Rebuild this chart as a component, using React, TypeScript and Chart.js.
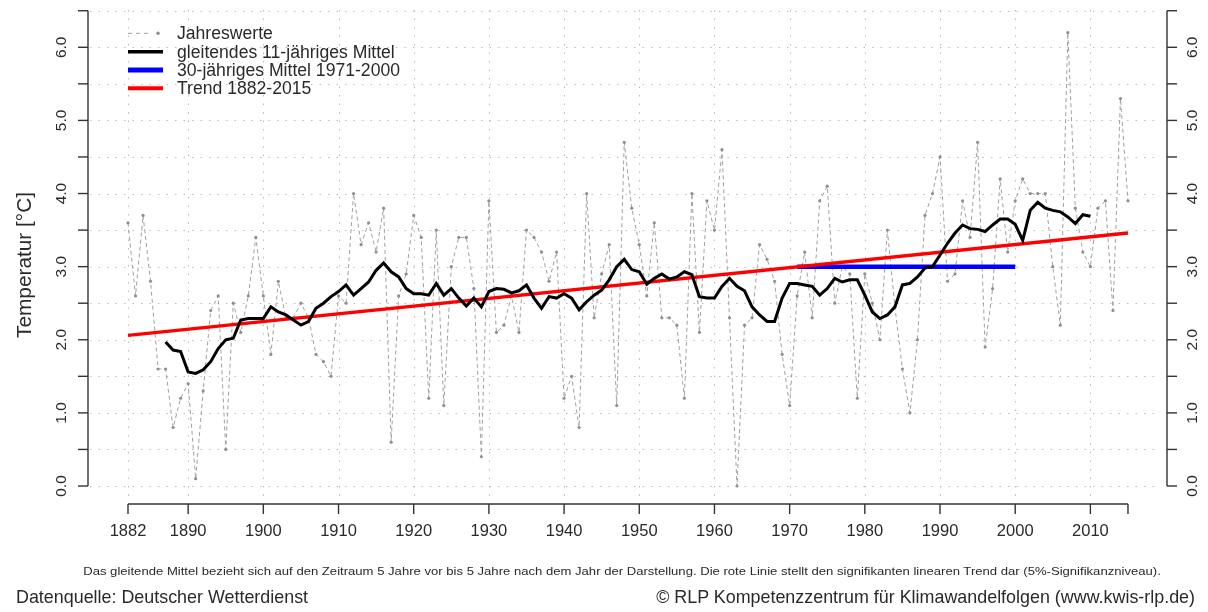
import React, { useEffect, useRef } from "react";
import { Chart, registerables } from "chart.js";

Chart.register(...registerables);

// ---------- data ----------
const FIRST_YEAR = 1882;
const LAST_YEAR = 2015;
const YEARS = Array.from({ length: LAST_YEAR - FIRST_YEAR + 1 }, (_, i) => FIRST_YEAR + i);

// Jahreswerte 1882-2015
const ANNUAL = [
  3.6, 2.6, 3.7, 2.8, 1.6, 1.6, 0.8, 1.2, 1.4, 0.1,
  1.3, 2.4, 2.6, 0.5, 2.5, 2.1, 2.6, 3.4, 2.6, 1.8,
  2.8, 2.3, 2.3, 2.5, 2.3, 1.8, 1.7, 1.5, 2.6, 2.5,
  4.0, 3.3, 3.6, 3.2, 3.8, 0.6, 2.6, 2.9, 3.7, 3.4,
  1.2, 3.5, 1.1, 3.0, 3.4, 3.4, 2.7, 0.4, 3.9, 2.1,
  2.2, 2.6, 2.1, 3.5, 3.4, 3.2, 2.8, 3.2, 1.2, 1.5,
  0.8, 4.0, 2.3, 2.9, 3.3, 1.1, 4.7, 3.8, 3.3, 2.6,
  3.6, 2.3, 2.3, 2.2, 1.2, 4.0, 2.1, 3.9, 3.5, 4.6,
  2.3, 0.0, 2.2, 2.3, 3.3, 3.1, 2.8, 1.8, 1.1, 2.6,
  3.2, 2.3, 3.9, 4.1, 2.5, 3.0, 2.9, 1.2, 2.9, 2.5,
  2.0, 3.5, 2.45, 1.6, 1.0, 2.0, 3.7, 4.0, 4.5, 2.8,
  2.9, 3.9, 3.4, 4.7, 1.9, 2.7, 4.2, 3.2, 3.9, 4.2,
  4.0, 4.0, 4.0, 3.0, 2.2, 6.2, 3.8, 3.2, 3.0, 3.8,
  3.9, 2.4, 5.3, 3.9,
];

// gleitendes 11-jähriges Mittel 1887-2010
const MA_FIRST_YEAR = 1887;
const MOVING_AVG = [
  1.97, 1.86, 1.84, 1.56, 1.54, 1.59, 1.70, 1.88, 2.00, 2.02,
  2.27, 2.29, 2.29, 2.29, 2.45, 2.38, 2.34, 2.27, 2.20, 2.25,
  2.43, 2.50, 2.59, 2.66, 2.75, 2.61, 2.70, 2.79, 2.95, 3.05,
  2.93, 2.86, 2.70, 2.63, 2.63, 2.61, 2.77, 2.61, 2.70, 2.57,
  2.46, 2.57, 2.45, 2.66, 2.70, 2.69, 2.64, 2.67, 2.75, 2.57,
  2.43, 2.59, 2.57, 2.63, 2.57, 2.41, 2.52, 2.61, 2.68, 2.82,
  3.00, 3.10, 2.96, 2.93, 2.76, 2.84, 2.90, 2.83, 2.86, 2.93,
  2.89, 2.59, 2.57, 2.57, 2.73, 2.84, 2.73, 2.67, 2.45, 2.34,
  2.25, 2.25, 2.57, 2.77, 2.77, 2.75, 2.73, 2.61, 2.70, 2.84,
  2.79, 2.82, 2.82, 2.61, 2.38, 2.29, 2.34, 2.45, 2.75, 2.77,
  2.86, 2.98, 3.00, 3.16, 3.32, 3.46, 3.57, 3.52, 3.51, 3.48,
  3.57, 3.65, 3.65, 3.58, 3.36, 3.77, 3.88, 3.80, 3.77, 3.75,
  3.68, 3.59, 3.71, 3.69,
];

// 30-jähriges Mittel 1971-2000
const REF_YEARS = [1971, 2000];
const REF_VALUES = [3.0, 3.0];

// Trend 1882-2015
const TREND_YEARS = [1882, 2015];
const TREND_VALUES = [2.06, 3.46];

// axes
const X_TICKS = [1882, 1890, 1900, 1910, 1920, 1930, 1940, 1950, 1960, 1970, 1980, 1990, 2000, 2010, 2015];
const X_LABELS = ["1882", "1890", "1900", "1910", "1920", "1930", "1940", "1950", "1960", "1970", "1980", "1990", "2000", "2010", ""];
const X_GRID = [1882, 1890, 1900, 1910, 1920, 1930, 1940, 1950, 1960, 1970, 1980, 1990, 2000, 2010];
const Y_TICKS = [0, 0.5, 1, 1.5, 2, 2.5, 3, 3.5, 4, 4.5, 5, 5.5, 6, 6.5];
const Y_LABELS = ["0.0", "", "1.0", "", "2.0", "", "3.0", "", "4.0", "", "5.0", "", "6.0", ""];

const LEGEND_LABELS = [
  "Jahreswerte",
  "gleitendes 11-jähriges Mittel",
  "30-jähriges Mittel 1971-2000",
  "Trend 1882-2015",
];

const FONT = "'Liberation Sans', Arial, Helvetica, sans-serif";
const TEXT = "#2a2a2a";
const GREY = "#8f8f8f";

const decorPlugin = {
  id: "decor",
  beforeDatasetsDraw(chart: any) {
    const { ctx, chartArea } = chart;
    const xs = chart.scales.x;
    const ys = chart.scales.y;
    ctx.save();
    ctx.strokeStyle = "#bcbcbc";
    ctx.lineWidth = 1;
    ctx.setLineDash([1.5, 7]);
    Y_TICKS.forEach((v) => {
      const y = Math.round(ys.getPixelForValue(v)) + 0.5;
      ctx.beginPath();
      ctx.moveTo(chartArea.left + 2, y);
      ctx.lineTo(chartArea.right - 6, y);
      ctx.stroke();
    });
    X_GRID.forEach((v) => {
      const x = Math.round(xs.getPixelForValue(v)) + 0.5;
      ctx.beginPath();
      ctx.moveTo(x, chartArea.bottom);
      ctx.lineTo(x, chartArea.top);
      ctx.stroke();
    });
    ctx.restore();
  },
  afterDraw(chart: any) {
    const { ctx, chartArea } = chart;
    const xs = chart.scales.x;
    const ys = chart.scales.y;
    ctx.save();
    ctx.strokeStyle = "#333";
    ctx.fillStyle = TEXT;
    ctx.lineWidth = 1.4;
    ctx.setLineDash([]);

    // left & right axes
    const yTop = ys.getPixelForValue(Y_TICKS[Y_TICKS.length - 1]);
    const yBot = ys.getPixelForValue(Y_TICKS[0]);
    [chartArea.left, chartArea.right].forEach((ax, side) => {
      const dir = side === 0 ? -1 : 1;
      ctx.beginPath();
      ctx.moveTo(ax, yTop);
      ctx.lineTo(ax, yBot);
      ctx.stroke();
      Y_TICKS.forEach((v) => {
        const y = ys.getPixelForValue(v);
        ctx.beginPath();
        ctx.moveTo(ax, y);
        ctx.lineTo(ax + dir * 10, y);
        ctx.stroke();
      });
      ctx.font = `15.5px ${FONT}`;
      ctx.textAlign = "center";
      ctx.textBaseline = "middle";
      Y_TICKS.forEach((v, i) => {
        if (!Y_LABELS[i]) return;
        const y = ys.getPixelForValue(v);
        ctx.save();
        ctx.translate(ax + dir * 26, y);
        ctx.rotate(-Math.PI / 2);
        ctx.fillText(Y_LABELS[i], 0, 0);
        ctx.restore();
      });
    });

    // bottom axis
    const axisY = chartArea.bottom + 8;
    const x0 = xs.getPixelForValue(X_TICKS[0]);
    const x1 = xs.getPixelForValue(X_TICKS[X_TICKS.length - 1]);
    ctx.beginPath();
    ctx.moveTo(x0, axisY);
    ctx.lineTo(x1, axisY);
    ctx.stroke();
    ctx.font = `16.5px ${FONT}`;
    ctx.textAlign = "center";
    ctx.textBaseline = "middle";
    X_TICKS.forEach((v, i) => {
      const x = xs.getPixelForValue(v);
      ctx.beginPath();
      ctx.moveTo(x, axisY);
      ctx.lineTo(x, axisY + 10);
      ctx.stroke();
      if (X_LABELS[i]) ctx.fillText(X_LABELS[i], x, axisY + 27);
    });

    // y title
    ctx.save();
    ctx.font = `20.8px ${FONT}`;
    ctx.translate(25, 265);
    ctx.rotate(-Math.PI / 2);
    ctx.fillText("Temperatur [°C]", 0, 0);
    ctx.restore();

    // legend
    const rows = [33.3, 51.7, 70, 88.3];
    const lx0 = 128;
    const lx1 = 163;
    const ds = chart.data.datasets;
    const legendSets = [ds[0], ds[3], ds[1], ds[2]];
    ctx.textAlign = "left";
    ctx.font = `17.6px ${FONT}`;
    legendSets.forEach((d: any, i: number) => {
      const y = rows[i];
      ctx.save();
      ctx.strokeStyle = d.borderColor;
      ctx.lineWidth = i === 0 ? 1 : d.borderWidth + 0.5;
      ctx.setLineDash(i === 0 ? [4, 4] : []);
      ctx.beginPath();
      ctx.moveTo(lx0, y);
      ctx.lineTo(i === 0 ? lx1 - 12 : lx1, y);
      ctx.stroke();
      if (i === 0) {
        ctx.fillStyle = d.pointBackgroundColor;
        ctx.beginPath();
        ctx.arc(lx1 - 5, y, 1.8, 0, Math.PI * 2);
        ctx.fill();
      }
      ctx.restore();
      ctx.fillStyle = TEXT;
      ctx.fillText(LEGEND_LABELS[i], 177, y + 1);
    });

    ctx.restore();
  },
};

export default function App() {
  const ref = useRef<HTMLCanvasElement | null>(null);

  useEffect(() => {
    if (!ref.current) return;
    const chart = new Chart(ref.current, {
      type: "line",
      data: {
        datasets: [
          {
            label: LEGEND_LABELS[0],
            data: YEARS.map((yr, i) => ({ x: yr, y: ANNUAL[i] })),
            borderColor: "#a0a0a0",
            borderWidth: 1,
            borderDash: [4, 3],
            pointRadius: 1.6,
            pointBackgroundColor: GREY,
            pointBorderWidth: 0,
            order: 4,
          } as any,
          {
            label: LEGEND_LABELS[2],
            data: REF_YEARS.map((yr, i) => ({ x: yr, y: REF_VALUES[i] })),
            borderColor: "#0000ff",
            borderWidth: 4.5,
            pointRadius: 0,
            order: 3,
          },
          {
            label: LEGEND_LABELS[3],
            data: TREND_YEARS.map((yr, i) => ({ x: yr, y: TREND_VALUES[i] })),
            borderColor: "#ff0000",
            borderWidth: 3.5,
            pointRadius: 0,
            order: 2,
          },
          {
            label: LEGEND_LABELS[1],
            data: MOVING_AVG.map((v, i) => ({ x: MA_FIRST_YEAR + i, y: v })),
            borderColor: "#000000",
            borderWidth: 3,
            pointRadius: 0,
            order: 1,
          },
        ],
      },
      options: {
        animation: false,
        responsive: false,
        devicePixelRatio: 1,
        layout: { padding: { left: 88, right: 41, top: 8, bottom: 116 } },
        plugins: { legend: { display: false }, tooltip: { enabled: false } },
        elements: { line: { tension: 0 }, point: { hoverRadius: 0 } },
        scales: {
          x: { type: "linear", min: 1876.68, max: 2020.19, display: false },
          y: { type: "linear", min: -0.1368, max: 6.5375, display: false },
        },
      },
      plugins: [decorPlugin],
    });
    return () => chart.destroy();
  }, []);

  const footStyle: React.CSSProperties = {
    position: "absolute",
    fontFamily: FONT,
    color: TEXT,
    whiteSpace: "nowrap",
    lineHeight: 1,
  };

  return (
    <div style={{ position: "fixed", left: 0, top: 0, width: 1208, height: 612, background: "#fff", overflow: "hidden" }}>
      <canvas ref={ref} width={1208} height={612} style={{ position: "absolute", left: 0, top: 0 }} />
      <div
        style={{
          ...footStyle,
          left: 0,
          width: 1244,
          top: 566,
          fontSize: 11,
          textAlign: "center",
          transform: "scaleX(1.19)",
          transformOrigin: "622px 50%",
        }}
      >
        Das gleitende Mittel bezieht sich auf den Zeitraum 5 Jahre vor bis 5 Jahre nach dem Jahr der Darstellung. Die rote Linie stellt den signifikanten linearen Trend dar (5%-Signifikanzniveau).
      </div>
      <div style={{ ...footStyle, left: 16, top: 589, fontSize: 17.9 }}>Datenquelle: Deutscher Wetterdienst</div>
      <div style={{ ...footStyle, right: 13, top: 589, fontSize: 17.9 }}>
        © RLP Kompetenzzentrum für Klimawandelfolgen (www.kwis-rlp.de)
      </div>
    </div>
  );
}
